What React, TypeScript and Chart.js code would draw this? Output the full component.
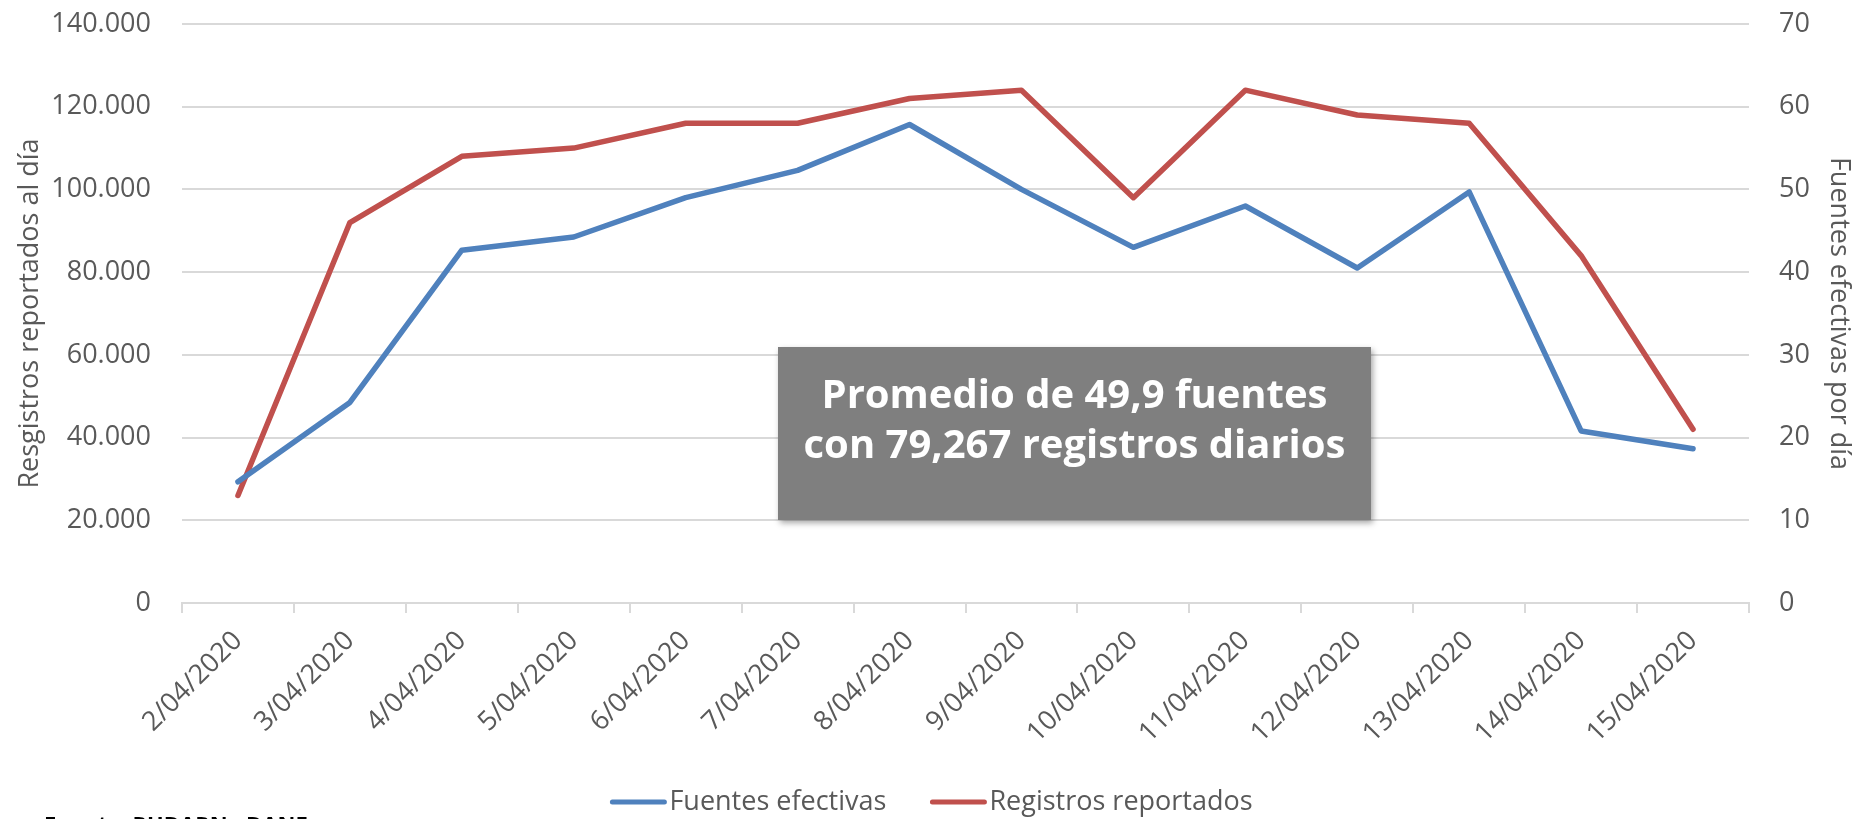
import React, { useEffect, useRef } from 'react';
import { Chart, registerables } from 'chart.js';

Chart.register(...registerables);

const categories = [
  '2/04/2020', '3/04/2020', '4/04/2020', '5/04/2020', '6/04/2020', '7/04/2020', '8/04/2020',
  '9/04/2020', '10/04/2020', '11/04/2020', '12/04/2020', '13/04/2020', '14/04/2020', '15/04/2020',
];

// Blue line, drawn on the left axis (as in the reference)
const fuentesEfectivas = [29300, 48500, 85300, 88500, 98000, 104600, 115700, 100000, 86000, 96000, 81000, 99400, 41600, 37300];
// Red line, drawn on the right axis (as in the reference)
const registrosReportados = [13, 46, 54, 55, 58, 58, 61, 62, 49, 62, 59, 58, 42, 21];

const seriesLabels = ['Fuentes efectivas', 'Registros reportados'];
const seriesColors = ['#4F81BD', '#C0504D'];

const leftAxisTitle = 'Resgistros reportados al día';
const rightAxisTitle = 'Fuentes efectivas por día';
const annotationLines = ['Promedio de 49,9 fuentes', 'con 79,267 registros diarios'];
const sourceText = 'Fuente: RUDARN - DANE';

const FONT = '"Open Sans", "DejaVu Sans", sans-serif';
const TEXT_COLOR = '#595959';
const GRID_COLOR = '#D9D9D9';

const fmtThousands = (v: number) => String(v).replace(/\B(?=(\d{3})+(?!\d))/g, '.');

const overlayPlugin = {
  id: 'overlay',
  afterDraw(chart: any) {
    const ctx = chart.ctx as CanvasRenderingContext2D;
    const W = chart.width;
    // Annotation box
    ctx.save();
    ctx.shadowColor = 'rgba(0,0,0,0.35)';
    ctx.shadowBlur = 6;
    ctx.shadowOffsetX = 2;
    ctx.shadowOffsetY = 3;
    ctx.fillStyle = '#7F7F7F';
    ctx.fillRect(778, 347, 593, 173);
    ctx.restore();
    ctx.save();
    ctx.fillStyle = '#FFFFFF';
    ctx.font = `bold 40px ${FONT}`;
    ctx.textAlign = 'center';
    ctx.textBaseline = 'alphabetic';
    ctx.fillText(annotationLines[0], 1074.5, 408, 520);
    ctx.fillText(annotationLines[1], 1074.5, 458, 560);
    ctx.restore();

    // Legend
    ctx.save();
    ctx.font = `27px ${FONT}`;
    const lineLen = 56;
    const gapText = 3;
    const gapItems = 44;
    const widths = chart.data.datasets.map((d: any) => ctx.measureText(d.label).width);
    const total = widths.reduce((a: number, w: number) => a + lineLen + gapText + w, 0) + gapItems * (widths.length - 1);
    let x = W / 2 - total / 2 + 3;
    const ly = 802;
    chart.data.datasets.forEach((d: any, i: number) => {
      ctx.strokeStyle = d.borderColor;
      ctx.lineWidth = 5;
      ctx.lineCap = 'round';
      ctx.beginPath();
      ctx.moveTo(x + 2, ly);
      ctx.lineTo(x + lineLen - 2, ly);
      ctx.stroke();
      ctx.fillStyle = TEXT_COLOR;
      ctx.textAlign = 'left';
      ctx.textBaseline = 'middle';
      ctx.fillText(d.label, x + lineLen + gapText, ly);
      x += lineLen + gapText + widths[i] + gapItems;
    });
    ctx.restore();

    // Source (cut at bottom)
    ctx.save();
    ctx.font = `bold 22px ${FONT}`;
    ctx.fillStyle = '#000000';
    ctx.textAlign = 'left';
    ctx.textBaseline = 'alphabetic';
    ctx.fillText(sourceText, 44, 832);
    ctx.restore();
  },
};

export default function App() {
  const canvasRef = useRef<HTMLCanvasElement | null>(null);

  useEffect(() => {
    const canvas = canvasRef.current;
    if (!canvas) return;
    const chart = new Chart(canvas, {
      type: 'line',
      data: {
        labels: categories,
        datasets: [
          {
            label: seriesLabels[0],
            data: fuentesEfectivas,
            yAxisID: 'y',
            borderColor: seriesColors[0],
            backgroundColor: seriesColors[0],
            borderWidth: 5.5,
            pointRadius: 0,
            borderJoinStyle: 'round',
            borderCapStyle: 'round',
            tension: 0,
          },
          {
            label: seriesLabels[1],
            data: registrosReportados,
            yAxisID: 'y1',
            borderColor: seriesColors[1],
            backgroundColor: seriesColors[1],
            borderWidth: 5.5,
            pointRadius: 0,
            borderJoinStyle: 'round',
            borderCapStyle: 'round',
            tension: 0,
          },
        ],
      },
      options: {
        animation: false,
        responsive: false,
        devicePixelRatio: 1,
        layout: { padding: { top: 24, left: 0, right: 0, bottom: 0 } },
        plugins: {
          legend: { display: false },
          tooltip: { enabled: false },
        },
        scales: {
          x: {
            type: 'category',
            offset: true,
            grid: {
              display: true,
              drawOnChartArea: false,
              drawTicks: true,
              tickLength: 10,
              offset: true,
              color: GRID_COLOR,
              lineWidth: 2,
            },
            border: { display: true, color: GRID_COLOR, width: 2 },
            ticks: {
              autoSkip: false,
              maxRotation: 45,
              minRotation: 45,
              padding: 12,
              color: TEXT_COLOR,
              font: { family: FONT, size: 27 },
            },
            afterFit(scale: any) {
              scale.height = 216;
            },
          },
          y: {
            position: 'left',
            min: 0,
            max: 140000,
            ticks: {
              stepSize: 20000,
              padding: 31,
              color: TEXT_COLOR,
              font: { family: FONT, size: 27 },
              callback: (v: any) => fmtThousands(Number(v)),
            },
            grid: { color: GRID_COLOR, lineWidth: 2, drawTicks: false },
            border: { display: false },
            title: {
              display: true,
              text: leftAxisTitle,
              color: TEXT_COLOR,
              font: { family: FONT, size: 27 },
              padding: { top: 14, bottom: 0 },
            },
            afterFit(scale: any) {
              scale.width = 182;
              scale.paddingTop = 16;
              scale.paddingBottom = 16;
            },
          },
          y1: {
            position: 'right',
            min: 0,
            max: 70,
            ticks: {
              stepSize: 10,
              padding: 30,
              color: TEXT_COLOR,
              font: { family: FONT, size: 27 },
            },
            grid: { display: false, drawTicks: false },
            border: { display: false },
            title: {
              display: true,
              text: rightAxisTitle,
              color: TEXT_COLOR,
              font: { family: FONT, size: 27 },
              padding: { top: 2, bottom: 0 },
            },
            afterFit(scale: any) {
              scale.width = 108;
              scale.paddingTop = 16;
              scale.paddingBottom = 16;
            },
          },
        },
      } as any,
      plugins: [overlayPlugin],
    });
    return () => chart.destroy();
  }, []);

  return (
    <div style={{ position: 'fixed', left: 0, top: 0, width: 1857, height: 819, background: '#fff' }}>
      <canvas ref={canvasRef} width={1857} height={819} style={{ width: 1857, height: 819, display: 'block' }} />
    </div>
  );
}
